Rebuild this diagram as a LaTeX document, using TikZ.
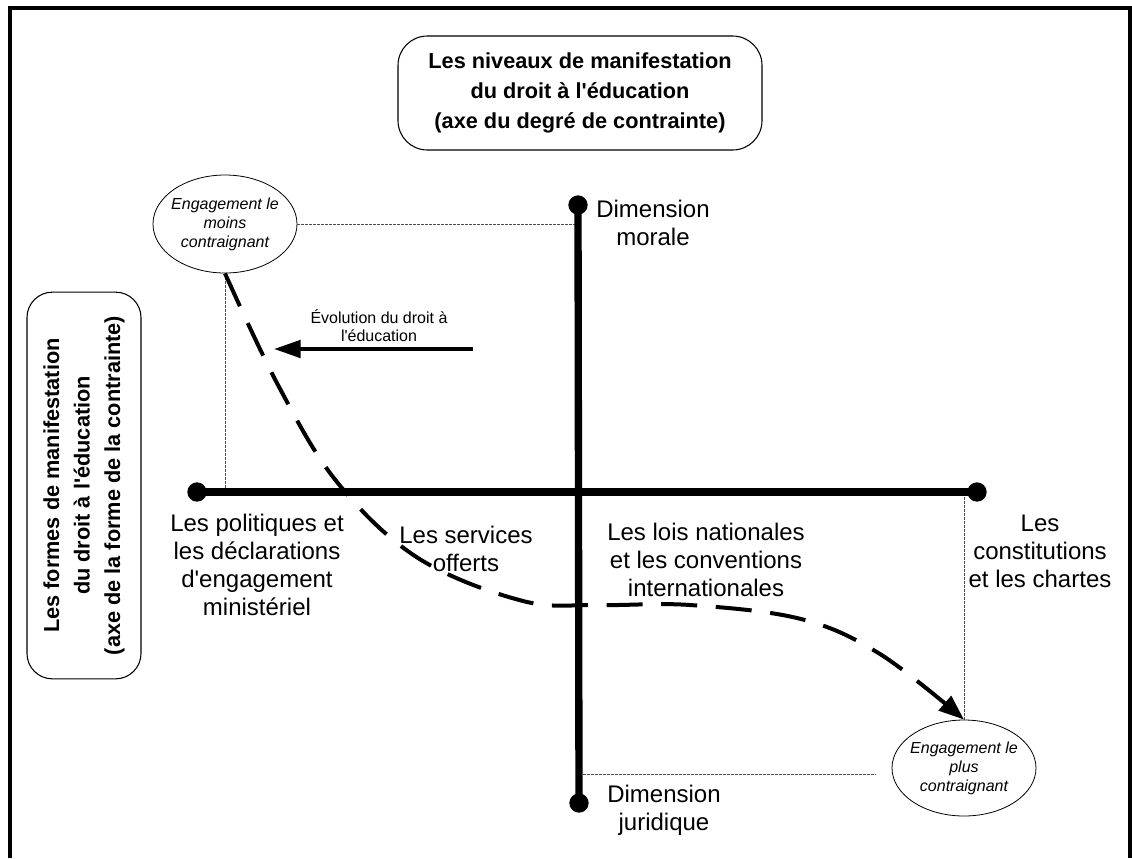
\documentclass[tikz,border=0pt]{standalone}
\usepackage{fontspec}
\setmainfont{Liberation Sans}[Ligatures=TeXOff]
\usetikzlibrary{arrows.meta,calc,shapes.geometric}
\begin{document}
\begin{tikzpicture}[x=0.75pt,y=-0.75pt,
  frame/.style={line width=3pt},
  headbox/.style={draw, line width=0.8pt, align=center, inner sep=0pt,
    font=\bfseries\fontsize{16.3}{22.8}\selectfont},
  dot/.style={circle, fill, inner sep=0pt, minimum size=14.5pt},
  axis/.style={line width=5.5pt},
  lbl/.style={align=center, inner sep=0pt, font=\fontsize{18}{21}\selectfont},
  eng/.style={ellipse, draw, line width=0.6pt, minimum width=108pt, inner xsep=-6pt, inner ysep=0pt,
    align=center, font=\itshape\fontsize{12}{14.25}\selectfont},
  guide/.style={draw=gray!60!black, line width=0.6pt, dash pattern=on 2.2pt off 0.8pt},
  evo/.style={line width=3pt, -{Triangle[length=20pt,width=13pt]}},
  evolbl/.style={align=center, inner sep=0pt, font=\fontsize{12}{13.5}\selectfont},
  trajectory/.style={line width=3pt, dash pattern=on 27pt off 14pt,
    -{Triangle[length=19pt,width=14pt]}}
]
\useasboundingbox (0,0) rectangle (1132,858);
% frame (open at the bottom)
\draw[frame] (10,858) -- (10,7.5) -- (1130,7.5) -- (1130,858);

% header boxes
\node[headbox, rounded corners=22pt, minimum width=273pt, minimum height=85.5pt]
  (levels) at (580,93) {Les niveaux de manifestation\\du droit à l'éducation\\(axe du degré de contrainte)};
\node[headbox, rounded corners=19pt, rotate=90, minimum width=290pt, minimum height=85.5pt]
  (forms) at (84,485.5) {Les formes de manifestation\\du droit à l'éducation\\(axe de la forme de la contrainte)};

% axis end points
\node[dot] (mor) at (578,205) {};
\node[dot] (jur) at (579,803) {};
\node[dot] (pol) at (197,492) {};
\node[dot] (cons) at (977,492) {};

% ellipses
\node[eng, minimum height=73.5pt] (e1) at (225,224) {Engagement le\\moins\\contraignant};
\node[eng, minimum height=72pt] (e2) at (964,768) {Engagement le\\plus\\contraignant};

% guides
\draw[guide] (e1.east) -- (e1.east -| mor.center);
\draw[guide] (e1.south) -- (e1.south |- pol.center);
\draw[guide] (e2.north) -- (e2.north |- cons.center);
\coordinate (jurguide) at (876,774);
\draw[guide] (jurguide -| jur.center) -- (jurguide);

% axes
\draw[axis] (mor.center) -- (jur.center);
\draw[axis] (pol.center) -- (cons.center);

% labels
\node[lbl] (lmor) at (653,222.5) {Dimension\\morale};
\node[lbl] (ljur) at (664,810.5) {Dimension\\juridique};
\node[lbl] (lpol) at (257,565) {Les politiques et\\les déclarations\\d'engagement\\ministériel};
\node[lbl] (lserv) at (466,548.5) {Les services\\offerts};
\node[lbl] (llois) at (706,560) {Les lois nationales\\et les conventions\\internationales};
\node[lbl] (lcons) at (1040,551) {Les\\constitutions\\et les chartes};

% evolution arrow
\coordinate (evostart) at (473,349);
\coordinate (evoend) at (274,349);
\draw[evo] (evostart) -- (evoend);
\node[evolbl] (levo) at (379,326) {Évolution du droit à\\l'éducation};

% trajectory
\draw[trajectory] plot[smooth, tension=0.6] coordinates {(e1.south) (278,385) (337,482) (418,558) (523,601) (600,605) (690,605) (801,619) (880,654) (e2.north)};
\end{tikzpicture}
\end{document}
